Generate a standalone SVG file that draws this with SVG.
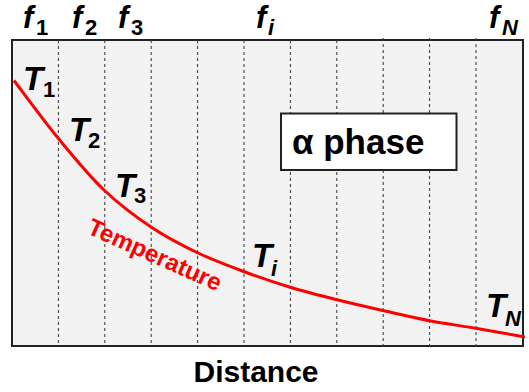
<svg xmlns="http://www.w3.org/2000/svg" width="529" height="392" viewBox="0 0 529 392">
<style>
.lab{font-family:"Liberation Sans",Arial,sans-serif;font-weight:bold;font-style:italic;fill:#000}
.big{font-size:33px}
.fbig{font-size:31px}
.sub{font-size:22px}
.up{font-style:normal}
.grid{stroke:#333;stroke-width:1;stroke-dasharray:3,3}
.plain{font-family:"Liberation Sans",Arial,sans-serif;font-weight:bold;fill:#000}
</style>
<rect width="529" height="392" fill="#fff"/>
<g id="frame">
<rect x="12" y="40" width="511" height="306" fill="#f2f2f2" stroke="#222" stroke-width="2"/>
</g>
<g id="grid">
<line class="grid" x1="58.4" y1="40" x2="58.4" y2="346"/>
<line class="grid" x1="104.8" y1="40" x2="104.8" y2="346"/>
<line class="grid" x1="151.2" y1="40" x2="151.2" y2="346"/>
<line class="grid" x1="197.6" y1="40" x2="197.6" y2="346"/>
<line class="grid" x1="244" y1="40" x2="244" y2="346"/>
<line class="grid" x1="290.4" y1="40" x2="290.4" y2="346"/>
<line class="grid" x1="336.8" y1="40" x2="336.8" y2="346"/>
<line class="grid" x1="383.2" y1="38" x2="383.2" y2="347"/>
<line class="grid" x1="429.6" y1="38" x2="429.6" y2="347"/>
<line class="grid" x1="476" y1="38" x2="476" y2="347"/>
</g>
<g id="alpha-phase">
<rect x="281" y="113.5" width="175.5" height="56.5" fill="#fff" stroke="#222" stroke-width="2"/>
<text class="plain" x="292" y="154" font-size="35">α phase</text>
</g>
<g id="connectors">
<path d="M14,80.5 C21.3,90.1 43,119.75 58,138 C73,156.25 88.5,175.2 104,190 C119.5,204.8 135.3,216.5 151,227 C166.7,237.5 182.3,245.5 198,253 C213.7,260.5 229.5,266.25 245,272 C260.5,277.75 275.5,282.8 291,287.5 C306.5,292.2 322.3,296.1 338,300 C353.7,303.9 369.5,307.5 385,311 C400.5,314.5 415.7,318.1 431,321 C446.3,323.9 461.3,325.8 477,328.5 C492.7,331.2 517,335.6 525,337" fill="none" stroke="#f00" stroke-width="3"/>
<text x="86" y="233" transform="rotate(24 86 233)" font-family="Liberation Sans,Arial,sans-serif" font-weight="bold" font-size="24" fill="#f00">Temperature</text>
</g>
<g id="f-labels">
<text class="lab fbig" x="23" y="28">f</text><text class="lab sub up" x="36" y="35">1</text>
<text class="lab fbig" x="72" y="28">f</text><text class="lab sub up" x="85" y="35">2</text>
<text class="lab fbig" x="118" y="28">f</text><text class="lab sub up" x="131" y="35">3</text>
<text class="lab fbig" x="256" y="28">f</text><text class="lab sub" x="268" y="35">i</text>
<text class="lab fbig" x="489" y="28">f</text><text class="lab sub" x="502" y="35">N</text>
</g>
<g id="t-labels">
<text class="lab big" x="23" y="90">T</text><text class="lab sub up" x="43" y="97">1</text>
<text class="lab big" x="69" y="141">T</text><text class="lab sub up" x="88" y="148">2</text>
<text class="lab big" x="115" y="197">T</text><text class="lab sub up" x="134" y="203">3</text>
<text class="lab big" x="252" y="267">T</text><text class="lab sub" x="271" y="276">i</text>
<text class="lab big" x="486" y="317">T</text><text class="lab sub" x="505" y="326">N</text>
</g>
<g id="axis-label">
<text class="plain" x="256" y="382" font-size="30" text-anchor="middle">Distance</text>
</g>
</svg>
